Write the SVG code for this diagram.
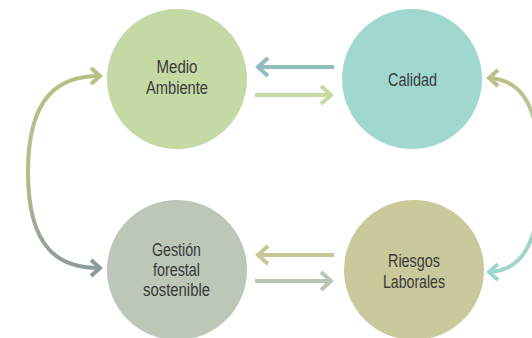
<svg xmlns="http://www.w3.org/2000/svg" width="532" height="338" viewBox="0 0 532 338">
<style>
.lbl{font-family:"Liberation Sans Narrow","Liberation Sans",Arial,sans-serif;font-size:17.5px;fill:#3a3a3a;text-anchor:middle}
.ln{fill:none;stroke-width:4;stroke-linecap:butt;stroke-linejoin:miter}
</style>
<defs>
<linearGradient id="gl" x1="0" y1="76" x2="0" y2="268" gradientUnits="userSpaceOnUse">
<stop offset="0" stop-color="#b7bf82"/><stop offset="0.5" stop-color="#b4bd86"/><stop offset="1" stop-color="#8e9b9b"/>
</linearGradient>
<linearGradient id="gr" x1="0" y1="78" x2="0" y2="272" gradientUnits="userSpaceOnUse">
<stop offset="0" stop-color="#bcc08a"/><stop offset="1" stop-color="#9ed7cf"/>
</linearGradient>
</defs>
<g id="medio-ambiente">
<circle cx="177" cy="79" r="70" fill="#c5d9a4"/>
<text class="lbl" x="177" y="73" textLength="41" lengthAdjust="spacingAndGlyphs">Medio</text>
<text class="lbl" x="177" y="94" textLength="62" lengthAdjust="spacingAndGlyphs">Ambiente</text>
</g>
<g id="calidad">
<circle cx="412" cy="79" r="70" fill="#a0d8d0"/>
<text class="lbl" x="412.5" y="86" textLength="49" lengthAdjust="spacingAndGlyphs">Calidad</text>
</g>
<g id="gestion">
<circle cx="177" cy="270" r="70" fill="#bcc7b8"/>
<text class="lbl" x="176.5" y="256" textLength="49" lengthAdjust="spacingAndGlyphs">Gestión</text>
<text class="lbl" x="176.5" y="276" textLength="47" lengthAdjust="spacingAndGlyphs">forestal</text>
<text class="lbl" x="176.5" y="296" textLength="67" lengthAdjust="spacingAndGlyphs">sostenible</text>
</g>
<g id="riesgos">
<circle cx="414" cy="270" r="70" fill="#c9c99b"/>
<text class="lbl" x="414" y="267" textLength="52" lengthAdjust="spacingAndGlyphs">Riesgos</text>
<text class="lbl" x="414" y="288" textLength="62" lengthAdjust="spacingAndGlyphs">Laborales</text>
</g>
<g id="connectors">
<g stroke="#90bdbe" class="ln"><path d="M334 67H259"/><path d="M268 58L258 67L268 76"/></g>
<g stroke="#c6dba2" class="ln"><path d="M255 95H330"/><path d="M321 86L331 95L321 104"/></g>
<g stroke="#c6c995" class="ln"><path d="M334 255H259"/><path d="M268 246L258 255L268 264"/></g>
<g stroke="#bac5b6" class="ln"><path d="M255 281H330"/><path d="M321 272L331 281L321 290"/></g>
<path class="ln" stroke="url(#gl)" d="M99 76C60 76 28 95 28 172C28 250 60 268 99 268"/>
<g stroke="#b7bf82" class="ln"><path d="M91 68L100 76L91 84"/></g>
<g stroke="#8e9b9b" class="ln"><path d="M91 260L100 268L91 276"/></g>
<path class="ln" stroke="url(#gr)" d="M490 78C515 80 540 95 540 175C540 255 515 270 490 272"/>
<g stroke="#bcc08a" class="ln"><path d="M498 70L489 78L498 86"/></g>
<g stroke="#9ed7cf" class="ln"><path d="M498 264L489 272L498 280"/></g>
</g>
</svg>
